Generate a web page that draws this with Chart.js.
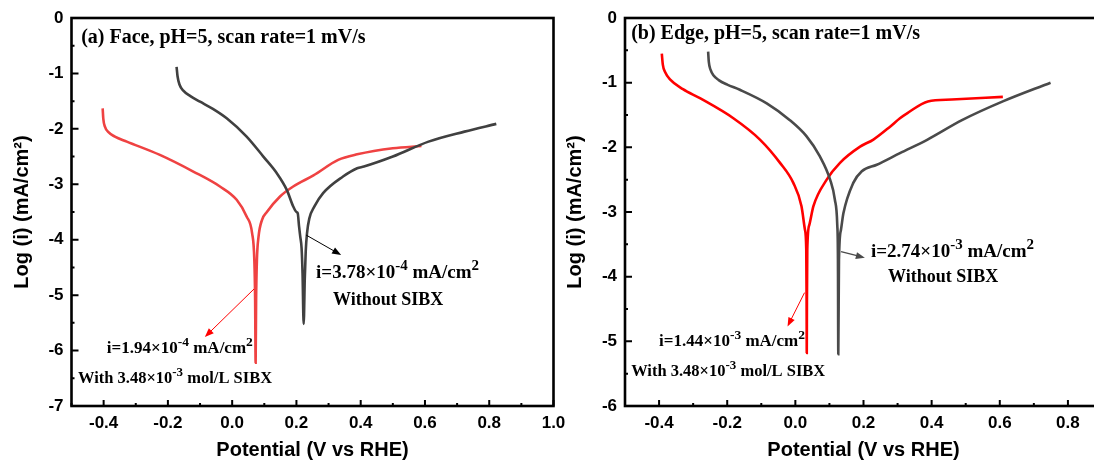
<!DOCTYPE html>
<html>
<head>
<meta charset="utf-8">
<script src="https://cdn.jsdelivr.net/npm/chart.js@4.4.1/dist/chart.umd.min.js"></script>
<style>
  html, body { margin: 0; padding: 0; background: #fff; overflow: hidden; width: 1094px; height: 462px; }
  .box { position: absolute; top: 0; }
</style>
</head>
<body>
<div class="box" style="left:0px"><canvas id="cA" width="580" height="462"></canvas></div>
<div class="box" style="left:560px"><canvas id="cB" width="550" height="462"></canvas></div>
<script>
// ---------- Panel (a) Face ----------
const aXTicks = [-0.4, -0.2, 0.0, 0.2, 0.4, 0.6, 0.8, 1.0];
const aYTicks = [0, -1, -2, -3, -4, -5, -6, -7];

const aWithoutX = [-0.173, -0.170, -0.164, -0.152, -0.130, -0.100, -0.060, -0.017, 0.045, 0.097, 0.139, 0.170, 0.190, 0.200, 0.204, 0.208, 0.212, 0.216, 0.219, 0.2225, 0.226, 0.229, 0.233, 0.240, 0.256, 0.283, 0.345, 0.389, 0.410, 0.500, 0.611, 0.723, 0.822];
const aWithoutY = [-0.88, -1.05, -1.20, -1.31, -1.41, -1.51, -1.64, -1.81, -2.14, -2.50, -2.80, -3.10, -3.40, -3.50, -3.52, -3.75, -3.95, -4.15, -4.60, -5.52, -4.70, -4.20, -3.88, -3.62, -3.40, -3.16, -2.86, -2.71, -2.68, -2.50, -2.23, -2.05, -1.91];

const aWithX = [-0.403, -0.401, -0.396, -0.385, -0.365, -0.328, -0.225, -0.121, -0.038, 0.014, 0.045, 0.062, 0.069, 0.0715, 0.073, 0.0745, 0.077, 0.082, 0.093, 0.108, 0.149, 0.190, 0.253, 0.330, 0.389, 0.500, 0.589];
const aWithY = [-1.63, -1.82, -1.96, -2.06, -2.14, -2.23, -2.47, -2.77, -3.04, -3.28, -3.58, -3.88, -4.37, -5.09, -6.22, -5.09, -4.37, -3.95, -3.64, -3.50, -3.22, -3.04, -2.84, -2.56, -2.46, -2.35, -2.31];

// ---------- Panel (b) Edge ----------
const bXTicks = [-0.4, -0.2, 0.0, 0.2, 0.4, 0.6, 0.8];
const bYTicks = [0, -1, -2, -3, -4, -5, -6];

const bWithoutX = [-0.256, -0.254, -0.249, -0.240, -0.225, -0.200, -0.163, -0.084, -0.016, 0.033, 0.072, 0.102, 0.116, 0.123, 0.125, 0.126, 0.128, 0.134, 0.141, 0.170, 0.195, 0.239, 0.307, 0.388, 0.489, 0.609, 0.749];
const bWithoutY = [-0.52, -0.68, -0.80, -0.89, -0.96, -1.03, -1.11, -1.32, -1.58, -1.83, -2.14, -2.50, -2.81, -3.20, -3.74, -5.20, -3.74, -3.27, -3.02, -2.55, -2.37, -2.27, -2.09, -1.88, -1.58, -1.29, -1.00];

const bWithX = [-0.392, -0.389, -0.382, -0.368, -0.330, -0.280, -0.182, -0.104, -0.045, -0.006, 0.018, 0.028, 0.032, 0.033, 0.0335, 0.034, 0.035, 0.041, 0.053, 0.092, 0.131, 0.190, 0.229, 0.278, 0.307, 0.329, 0.389, 0.459, 0.609];
const bWithY = [-0.55, -0.72, -0.84, -0.95, -1.10, -1.24, -1.55, -1.88, -2.24, -2.55, -2.91, -3.27, -3.58, -4.36, -5.18, -4.36, -3.58, -3.20, -2.91, -2.50, -2.24, -1.99, -1.88, -1.68, -1.55, -1.47, -1.29, -1.26, -1.22];

const SERIF = '"Liberation Serif", "Times New Roman", Times, serif';
const SANS = '"Liberation Sans", Arial, Helvetica, sans-serif';

function pts(xs, ys) { return xs.map((x, i) => ({ x: x, y: ys[i] })); }

const framePlugin = {
  id: 'frame',
  afterDraw(chart, args, opts) {
    const { ctx, chartArea: a, scales: { x, y } } = chart;
    ctx.save();
    ctx.strokeStyle = '#000';
    ctx.lineWidth = 2;
    ctx.beginPath();
    const xt = opts.xTicks, yt = opts.yTicks;
    const xs = xt[1] - xt[0], ys = yt[0] - yt[1];
    xt.forEach(v => {
      const p = x.getPixelForValue(v);
      ctx.moveTo(p, a.bottom); ctx.lineTo(p, a.bottom - 6);
    });
    for (let v = x.min; v <= x.max + 1e-9; v += xs / 2) {
      const r = Math.round(v * 100) / 100;
      if (xt.some(t => Math.abs(t - r) < 1e-6)) continue;
      const p = x.getPixelForValue(r);
      ctx.moveTo(p, a.bottom); ctx.lineTo(p, a.bottom - 3);
    }
    yt.forEach(v => {
      const p = y.getPixelForValue(v);
      ctx.moveTo(a.left, p); ctx.lineTo(a.left + 7, p);
    });
    for (let v = y.min; v <= y.max + 1e-9; v += ys / 2) {
      if (yt.some(t => Math.abs(t - v) < 1e-6)) continue;
      const p = y.getPixelForValue(v);
      ctx.moveTo(a.left, p); ctx.lineTo(a.left + 3, p);
    }
    ctx.stroke();
    ctx.lineWidth = 2.6;
    ctx.strokeRect(a.left, a.top, a.right - a.left, a.bottom - a.top);

    (opts.arrows || []).forEach(ar => {
      const x1 = x.getPixelForValue(ar.from[0]), y1 = y.getPixelForValue(ar.from[1]);
      const x2 = x.getPixelForValue(ar.to[0]), y2 = y.getPixelForValue(ar.to[1]);
      const ang = Math.atan2(y2 - y1, x2 - x1);
      const L = 9, W = 3.5;
      ctx.strokeStyle = ar.color; ctx.fillStyle = ar.color; ctx.lineWidth = ar.width;
      ctx.beginPath();
      ctx.moveTo(x1, y1);
      ctx.lineTo(x2 - L * 0.8 * Math.cos(ang), y2 - L * 0.8 * Math.sin(ang));
      ctx.stroke();
      ctx.beginPath();
      ctx.moveTo(x2, y2);
      ctx.lineTo(x2 - L * Math.cos(ang) + W * Math.sin(ang), y2 - L * Math.sin(ang) - W * Math.cos(ang));
      ctx.lineTo(x2 - L * Math.cos(ang) - W * Math.sin(ang), y2 - L * Math.sin(ang) + W * Math.cos(ang));
      ctx.closePath();
      ctx.fill();
    });

    ctx.textBaseline = 'alphabetic';
    ctx.textAlign = 'left';
    (opts.texts || []).forEach(t => {
      let cx = x.getPixelForValue(t.at[0]);
      const cy = y.getPixelForValue(t.at[1]);
      ctx.fillStyle = '#000';
      t.parts.forEach(([s, sup]) => {
        ctx.font = 'bold ' + (sup ? t.sup : t.size) + 'px ' + SERIF;
        ctx.fillText(s, cx, sup ? cy - t.size * 0.42 : cy);
        cx += ctx.measureText(s).width;
      });
    });
    ctx.restore();
  }
};

function makeChart(id, cfg) {
  const fixTicks = vals => (scale) => { scale.ticks = vals.map(v => ({ value: v })); };
  return new Chart(document.getElementById(id), {
    type: 'line',
    data: {
      datasets: [
        { data: pts(cfg.grayX, cfg.grayY), borderColor: cfg.grayColor, borderWidth: 2.6, pointRadius: 0, cubicInterpolationMode: 'monotone', fill: false },
        { data: pts(cfg.redX, cfg.redY), borderColor: cfg.redColor, borderWidth: 2.6, pointRadius: 0, cubicInterpolationMode: 'monotone', fill: false }
      ]
    },
    options: {
      responsive: false,
      animation: false,
      devicePixelRatio: 1,
      layout: { padding: { top: 18, right: cfg.padRight, left: 0, bottom: 0 } },
      plugins: {
        legend: { display: false },
        tooltip: { enabled: false },
        frame: { xTicks: cfg.xTicks, yTicks: cfg.yTicks, texts: cfg.texts, arrows: cfg.arrows }
      },
      scales: {
        x: {
          type: 'linear', min: cfg.xMin, max: cfg.xMax,
          grid: { display: false, drawTicks: false },
          border: { display: false },
          afterBuildTicks: fixTicks(cfg.xTicks),
          afterFit: s => { s.height = 56; s.paddingLeft = 0; s.paddingRight = 0; },
          ticks: { color: '#000', font: { family: SANS, size: 17, weight: 'bold' }, padding: 7, maxRotation: 0, autoSkip: false,
                   callback: v => v.toFixed(1) },
          title: { display: true, text: 'Potential (V vs RHE)', color: '#000', font: { family: SANS, size: 20, weight: 'bold' }, padding: { top: 0, bottom: 0 } }
        },
        y: {
          type: 'linear', min: cfg.yMin, max: 0,
          grid: { display: false, drawTicks: false },
          border: { display: false },
          afterBuildTicks: fixTicks(cfg.yTicks),
          afterFit: s => { s.width = cfg.yWidth; s.paddingTop = 0; s.paddingBottom = 0; },
          ticks: { color: '#000', font: { family: SANS, size: 17, weight: 'bold' }, padding: 8, autoSkip: false,
                   callback: v => String(v) },
          title: { display: true, text: 'Log (i) (mA/cm²)', color: '#000', font: { family: SANS, size: 20, weight: 'bold' }, padding: { top: cfg.yTitlePad, bottom: 0 } }
        }
      }
    },
    plugins: [framePlugin]
  });
}

makeChart('cA', {
  grayX: aWithoutX, grayY: aWithoutY, redX: aWithX, redY: aWithY,
  grayColor: '#404040', redColor: '#ef4242',
  xMin: -0.5, xMax: 1.0, yMin: -7, xTicks: aXTicks, yTicks: aYTicks,
  padRight: 26.5, yWidth: 71.5, yTitlePad: 10,
  texts: [
    { at: [-0.470, -0.451], size: 20, sup: 16, parts: [['(a) Face, pH=5, scan rate=1 mV/s']] },
    { at: [0.261, -4.69], size: 19, sup: 15, parts: [['i=3.78×10'], ['-4', 1], [' mA/cm'], ['2', 1]] },
    { at: [0.314, -5.18], size: 18, sup: 14, parts: [['Without SIBX']] },
    { at: [-0.390, -6.04], size: 17, sup: 13.5, parts: [['i=1.94×10'], ['-4', 1], [' mA/cm'], ['2', 1]] },
    { at: [-0.480, -6.58], size: 16.5, sup: 13, parts: [['With 3.48×10'], ['-3', 1], [' mol/L SIBX']] }
  ],
  arrows: [
    { from: [0.230, -3.915], to: [0.339, -4.276], color: '#000', width: 1 },
    { from: [0.068, -4.889], to: [-0.085, -5.755], color: '#ff0000', width: 1 }
  ]
});

makeChart('cB', {
  grayX: bWithoutX, grayY: bWithoutY, redX: bWithX, redY: bWithY,
  grayColor: '#4a4a4a', redColor: '#ff0000',
  xMin: -0.5, xMax: 0.9, yMin: -6, xTicks: bXTicks, yTicks: bYTicks,
  padRight: 8, yWidth: 65, yTitlePad: 3,
  texts: [
    { at: [-0.482, -0.324], size: 20, sup: 16, parts: [['(b) Edge, pH=5, scan rate=1 mV/s']] },
    { at: [0.222, -3.69], size: 19, sup: 15, parts: [['i=2.74×10'], ['-3', 1], [' mA/cm'], ['2', 1]] },
    { at: [0.272, -4.09], size: 18, sup: 14, parts: [['Without SIBX']] },
    { at: [-0.400, -5.07], size: 17, sup: 13.5, parts: [['i=1.44×10'], ['-3', 1], [' mA/cm'], ['2', 1]] },
    { at: [-0.482, -5.53], size: 16.5, sup: 13, parts: [['With 3.48×10'], ['-3', 1], [' mol/L SIBX']] }
  ],
  arrows: [
    { from: [0.134, -3.614], to: [0.204, -3.707], color: '#4a4a4a', width: 1.3 },
    { from: [0.027, -4.247], to: [-0.023, -4.772], color: '#ff0000', width: 1 }
  ]
});
</script>
</body>
</html>
